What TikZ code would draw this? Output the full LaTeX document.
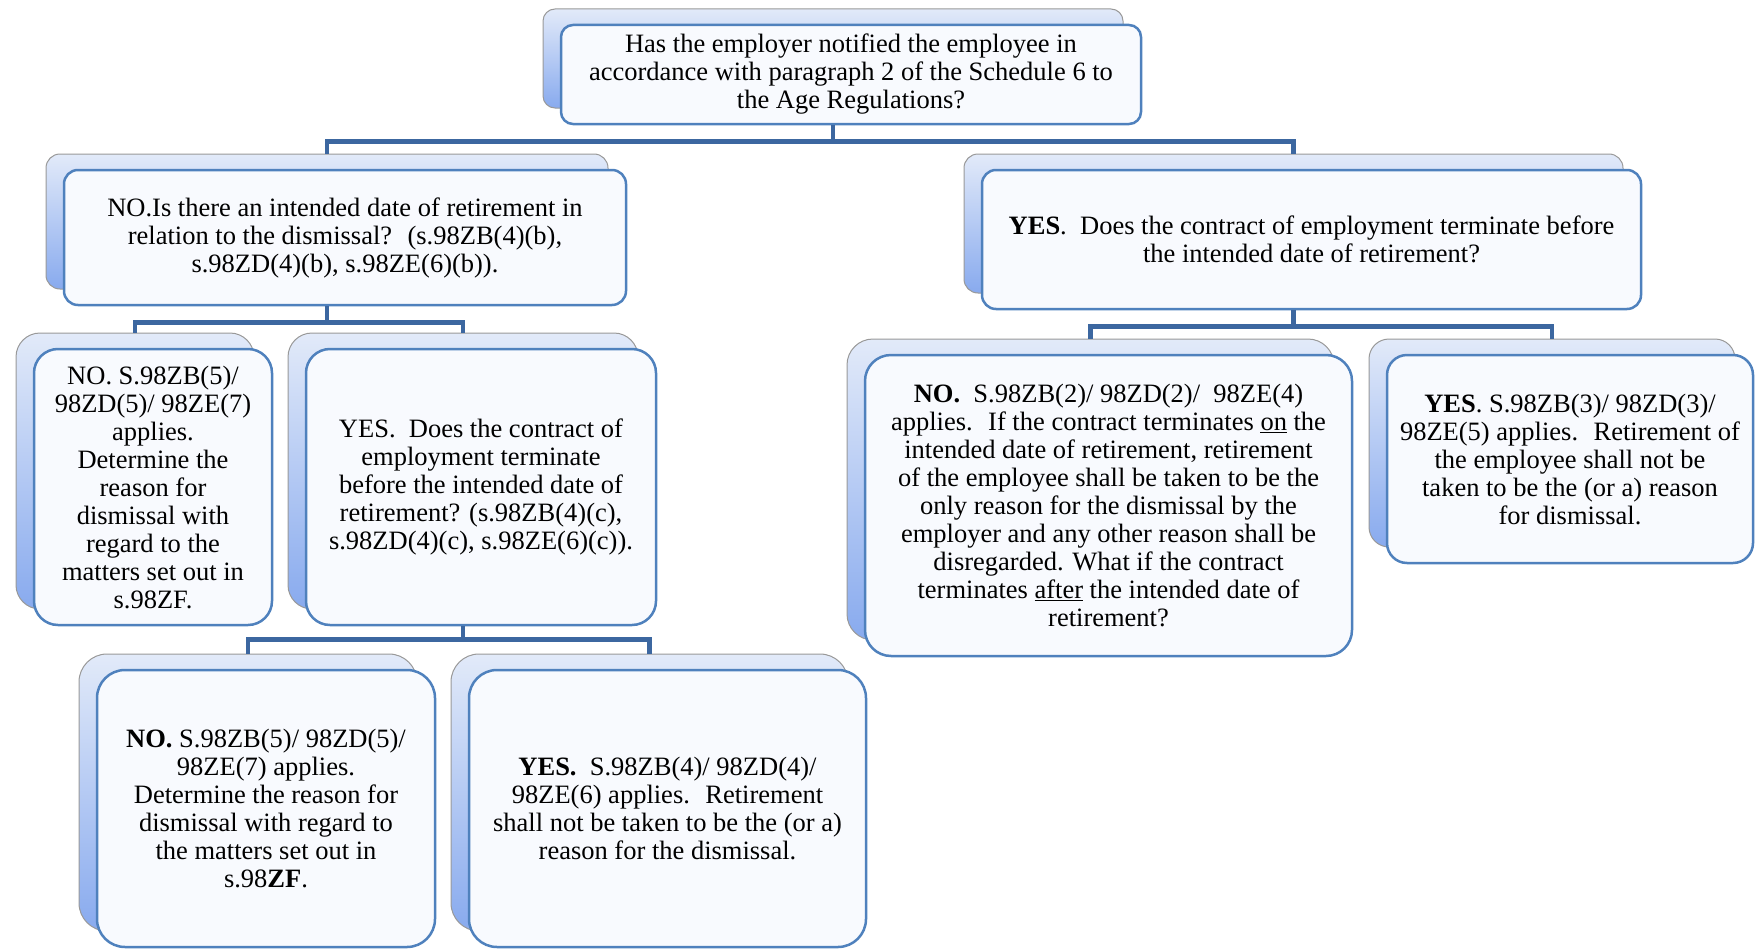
\documentclass[tikz,border=0pt]{standalone}
\usepackage{fontspec}
\setmainfont{Liberation Serif}
\definecolor{frameblue}{HTML}{4F81BD}
\definecolor{linkblue}{HTML}{3C67A0}
\definecolor{panetop}{HTML}{E2EAF9}
\definecolor{panebot}{HTML}{88AAEE}
\definecolor{paper}{HTML}{F8FAFE}
\begin{document}
\begin{tikzpicture}[x=1pt,y=-1pt,
  back/.style={draw=gray!80,line width=1pt,top color=panetop,bottom color=panebot,inner sep=0pt},
  front/.style={draw=frameblue,line width=2.5pt,fill=paper,inner sep=0pt,align=center,font=\fontsize{26.5}{28}\selectfont},
  link/.style={draw=linkblue,line width=4.5pt}]
\useasboundingbox (0,0) rectangle (1756,950);
\node[back,minimum width=580pt,minimum height=99pt,rounded corners=12pt] (topb) at (833,58.5) {};
\node[front,minimum width=580pt,minimum height=99pt,rounded corners=12pt] (top) at (851,74.5) {Has the employer notified the employee in\\accordance with paragraph 2 of the Schedule 6 to\\the Age Regulations?};
\node[back,minimum width=562pt,minimum height=135pt,rounded corners=14pt] (no1b) at (327,221.5) {};
\node[front,minimum width=562pt,minimum height=135pt,rounded corners=14pt] (no1) at (345,237.5) {NO.Is there an intended date of retirement in\\relation to the dismissal?~ (s.98ZB(4)(b),\\s.98ZD(4)(b), s.98ZE(6)(b)).};
\node[back,minimum width=659pt,minimum height=139pt,rounded corners=14pt] (yes1b) at (1293.5,223.5) {};
\node[front,minimum width=659pt,minimum height=139pt,rounded corners=14pt] (yes1) at (1311.5,239.5) {\textbf{YES}.~ Does the contract of employment terminate before\\the intended date of retirement?};
\node[back,minimum width=238pt,minimum height=276pt,rounded corners=24pt] (no2b) at (135,471) {};
\node[front,minimum width=238pt,minimum height=276pt,rounded corners=24pt] (no2) at (153,487) {NO. S.98ZB(5)/\\98ZD(5)/ 98ZE(7)\\applies.\\Determine the\\reason for\\dismissal with\\regard to the\\matters set out in\\s.98ZF.};
\node[back,minimum width=350pt,minimum height=276pt,rounded corners=24pt] (yes2b) at (463,471) {};
\node[front,minimum width=350pt,minimum height=276pt,rounded corners=24pt] (yes2) at (481,487) {YES.~ Does the contract of\\employment terminate\\before the intended date of\\retirement? (s.98ZB(4)(c),\\s.98ZD(4)(c), s.98ZE(6)(c)).};
\node[back,minimum width=338pt,minimum height=277pt,rounded corners=28pt] (no3b) at (248,792.5) {};
\node[front,minimum width=338pt,minimum height=277pt,rounded corners=28pt] (no3) at (266,808.5) {\textbf{NO.} S.98ZB(5)/ 98ZD(5)/\\98ZE(7) applies.\\Determine the reason for\\dismissal with regard to\\the matters set out in\\s.98\textbf{ZF}.};
\node[back,minimum width=397pt,minimum height=277pt,rounded corners=28pt] (yes3b) at (649.5,792.5) {};
\node[front,minimum width=397pt,minimum height=277pt,rounded corners=28pt] (yes3) at (667.5,808.5) {\textbf{YES.}~ S.98ZB(4)/ 98ZD(4)/\\98ZE(6) applies.~ Retirement\\shall not be taken to be the (or a)\\reason for the dismissal.};
\node[back,minimum width=487pt,minimum height=301pt,rounded corners=26pt] (no4b) at (1090.5,489.5) {};
\node[front,minimum width=487pt,minimum height=301pt,rounded corners=26pt] (no4) at (1108.5,505.5) {\textbf{NO.}~ S.98ZB(2)/ 98ZD(2)/~ 98ZE(4)\\applies.~ If the contract terminates \underline{on} the\\intended date of retirement, retirement\\of the employee shall be taken to be the\\only reason for the dismissal by the\\employer and any other reason shall be\\disregarded. What if the contract\\terminates \underline{after} the intended date of\\retirement?};
\node[back,minimum width=366pt,minimum height=208pt,rounded corners=20pt] (yes4b) at (1552,443) {};
\node[front,minimum width=366pt,minimum height=208pt,rounded corners=20pt] (yes4) at (1570,459) {\textbf{YES}. S.98ZB(3)/ 98ZD(3)/\\98ZE(5) applies.~ Retirement of\\the employee shall not be\\taken to be the (or a) reason\\for dismissal.};
\draw[link] (top.south -| topb.south) -- ++(0,16) coordinate (j0);
\draw[link] (no1b.north) |- (j0) -| (yes1b.north);
\draw[link] (no1.south -| no1b.south) -- ++(0,16) coordinate (j1);
\draw[link] (no2b.north) |- (j1) -| (yes2b.north);
\draw[link] (yes2.south -| yes2b.south) -- ++(0,13) coordinate (j2);
\draw[link] (no3b.north) |- (j2) -| (yes3b.north);
\draw[link] (yes1.south -| yes1b.south) -- ++(0,16) coordinate (j3);
\draw[link] (no4b.north) |- (j3) -| (yes4b.north);
\end{tikzpicture}
\end{document}
